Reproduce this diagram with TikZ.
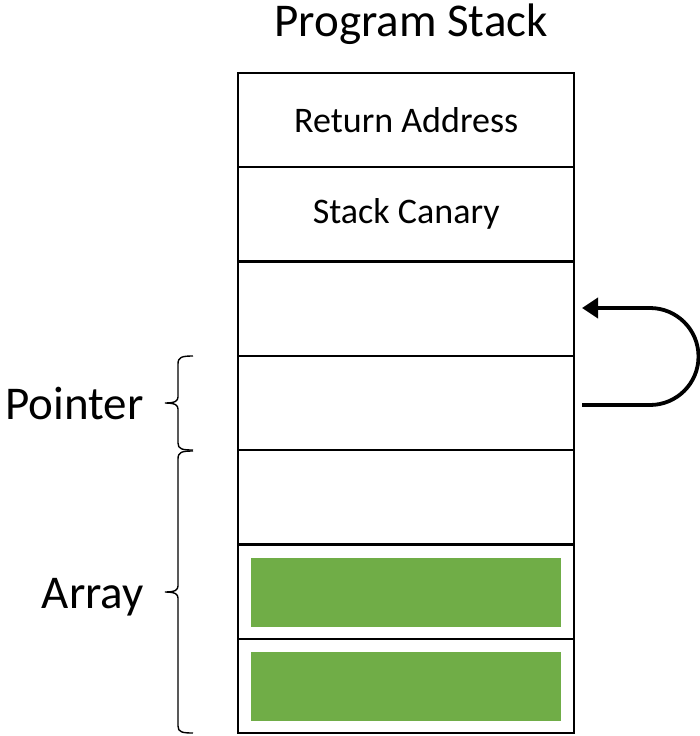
\documentclass[tikz,border=0pt]{standalone}
\usepackage{fontspec}
\setmainfont{Carlito}
\usetikzlibrary{arrows.meta}
\definecolor{cellgreen}{HTML}{70AD47}
\begin{document}
\begin{tikzpicture}[x=1pt,y=-1pt,
  cell/.style={draw=black,line width=2.4pt,minimum width=336pt,minimum height=94pt,inner sep=0pt,anchor=north west,font=\fontsize{36}{42}\selectfont},
  fill box/.style={fill=cellgreen,draw=none,minimum width=310pt,minimum height=69pt,inner sep=0pt},
  bracestyle/.style={line width=1.4pt},
  lbl/.style={font=\fontsize{47}{54}\selectfont,anchor=east,inner sep=0pt},
  loop/.style={line width=3.8pt,-{Triangle[length=16pt,width=20pt]}}]
\useasboundingbox (0,0) rectangle (700,736);
\node[font=\fontsize{47}{54}\selectfont] (title) at (411,24) {Program Stack};
\node[cell] (c1) at (237,72) {Return Address};
\node[cell] (c2) at (237,166) {Stack Canary};
\node[cell] (c3) at (237,261) {};
\node[cell] (c4) at (237,355) {};
\node[cell] (c5) at (237,449) {};
\node[cell] (c6) at (237,544) {};
\node[cell] (c7) at (237,638) {};
\node[fill box] (g1) at (c6.center) {};
\node[fill box] (g2) at (c7.center) {};
\coordinate (pt) at (193,356);
\coordinate (pb) at (193,450);
\coordinate (at) at (193,451);
\coordinate (ab) at (193,733);
\draw[bracestyle] (pt) .. controls (182,356) and (178,357) .. (178,364) -- (178,397)
  .. controls (178,401) and (175,403) .. (165,403)
  .. controls (175,403) and (178,405) .. (178,409) -- (178,443)
  .. controls (178,449) and (182,450) .. (pb);
\draw[bracestyle] (at) .. controls (182,451) and (178,452) .. (178,459) -- (178,586)
  .. controls (178,590) and (175,592) .. (165,592)
  .. controls (175,592) and (178,594) .. (178,598) -- (178,726)
  .. controls (178,732) and (182,733) .. (ab);
\node[lbl] (ptr) at (144,403) {Pointer};
\node[lbl] (arr) at (144,597) {Array};
\coordinate (s) at (582,405);
\coordinate (e) at (582,308);
\draw[loop] (s) -- (650,405) arc[start angle=90,end angle=-90,radius=48.5] -- (e);
\end{tikzpicture}
\end{document}
